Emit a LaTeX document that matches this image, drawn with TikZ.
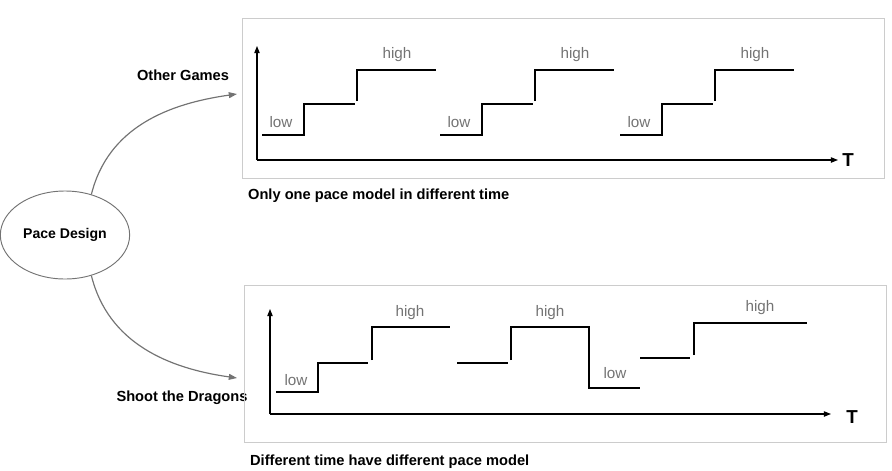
\documentclass[tikz,border=0pt]{standalone}
\usepackage{fontspec}
\setmainfont{Liberation Sans}
\usetikzlibrary{shapes.geometric, arrows.meta}

\begin{document}
\begin{tikzpicture}[
		x=0.03cm, y=-0.03cm,
		bubble/.style={draw=black!55, thick, ellipse, minimum width=3.5cm, minimum height=2.64cm, font=\bfseries\fontsize{12}{14}\selectfont},
		title/.style={font=\bfseries\fontsize{12.5}{15}\selectfont},
		panel/.style={draw=black!20, anchor=north west, minimum width=19.26cm},
		curvearrow/.style={-{Triangle[length=7pt,width=5pt]}, draw=black!55, line width=1pt},
		axis/.style={-{Triangle[length=6pt,width=4.5pt]}, line width=1pt},
		stair/.style={line width=1.2pt},
		level/.style={text=black!55, font=\fontsize{13}{15}\selectfont},
		tlabel/.style={font=\bfseries\fontsize{16}{18}\selectfont}
	]
		\useasboundingbox (0,0) rectangle (892,470);

		\node[bubble] (pace) at (65,235) {Pace Design};
		\coordinate (topend) at (237,94);
		\coordinate (botend) at (237,378);
		\node[title] (other) at (183,75) {Other Games};
		\node[title] (shoot) at (182,398) {Shoot the Dragons};

		\draw[curvearrow] (pace.57) to[out=76, in=188] (topend);
		\draw[curvearrow] (pace.-57) to[out=-76, in=172] (botend);

		% upper panel
		\node[panel, minimum height=4.8cm] (toppanel) at (242,18) {};
		\node[title, anchor=west] (topcap) at (244,196) {Only one pace model in different time};
		\coordinate (o1) at (257,160);
		\draw[axis] (o1) -- (257,46);
		\draw[axis] (o1) -- (838,160);
		\node[tlabel] (t1) at (848,160) {T};
		\foreach \dx in {0,178,358} {
			\draw[stair] (262+\dx,135) -| (304+\dx,104) -- (355+\dx,104);
			\draw[stair] (357+\dx,101) |- (436+\dx,70);
			\node[level] at (281+\dx,122) {low};
			\node[level] at (397+\dx,55) {high};
		}

		% lower panel
		\node[panel, minimum height=4.71cm] (botpanel) at (244,285) {};
		\node[title, anchor=west] (botcap) at (246,462) {Different time have different pace model};
		\coordinate (o2) at (270,414);
		\draw[axis] (o2) -- (270,309);
		\draw[axis] (o2) -- (831,414);
		\node[tlabel] (t2) at (852,417) {T};

		\draw[stair] (276,392) -| (318,363) -- (368,363);
		\draw[stair] (372,360) |- (450,327);
		\node[level] at (296,380) {low};
		\node[level] at (410,313) {high};

		\draw[stair] (457,363) -- (508,363);
		\draw[stair] (511,360) |- (589,327) |- (640,388);
		\node[level] at (550,313) {high};
		\node[level] at (615,373) {low};

		\draw[stair] (640,358) -- (690,358);
		\draw[stair] (694,355) |- (807,323);
		\node[level] at (760,308) {high};
	\end{tikzpicture}
\end{document}
